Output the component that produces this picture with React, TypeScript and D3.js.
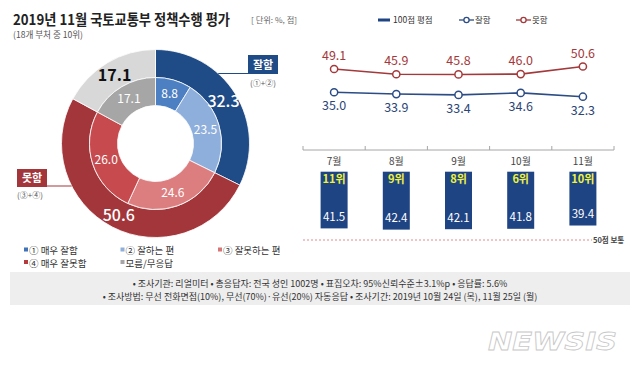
import React from 'react';
import * as d3 from 'd3';

const outerLabels = ['잘함', '못함', '모름/무응답'];
const outerValues = [32.3, 50.6, 17.1];
const outerColors = ['#1f4b86', '#a3363a', '#d8d8d8'];
const outerTextColors = ['#ffffff', '#ffffff', '#111111'];

const innerCategories = ['① 매우 잘함', '② 잘하는 편', '③ 잘못하는 편', '④ 매우 잘못함', '모름/무응답'];
const innerValues = [8.8, 23.5, 24.6, 26.0, 17.1];
const innerColors = ['#4d80c3', '#8eaedb', '#dc7e80', '#c74b4e', '#a6a6a6'];
const legendColors = ['#3f72b8', '#8eaedb', '#d77577', '#b43a3d', '#a6a6a6'];

const months = ['7월', '8월', '9월', '10월', '11월'];
const goodValues = [35.0, 33.9, 33.4, 34.6, 32.3];
const badValues = [49.1, 45.9, 45.8, 46.0, 50.6];
const scoreValues = [41.5, 42.4, 42.1, 41.8, 39.4];
const rankLabels = ['11위', '9위', '8위', '6위', '10위'];

const footerLines = [
  '• 조사기관: 리얼미터   • 총응답자: 전국 성인 1002명  • 표집오차: 95%신뢰수준±3.1%p   • 응답률: 5.6%',
  '• 조사방법: 무선 전화면접(10%), 무선(70%)·유선(20%) 자동응답 • 조사기간: 2019년 10월 24일 (목), 11월 25일 (월)',
];

const FONT = '"Noto Sans CJK KR", "Noto Sans", sans-serif';

export default function App() {
  const W = 639, H = 370;
  // donut
  const cx = 155.5, cy = 143.5;
  const rOuter = 94, rMid = 66, rInner = 38;
  const pie = d3.pie<number>().sort(null).value((d) => d).startAngle(0).endAngle(Math.PI * 2);
  const outerArcs = pie(outerValues);
  const innerArcs = pie(innerValues);
  const outerArc = d3.arc<d3.PieArcDatum<number>>().innerRadius(rMid).outerRadius(rOuter);
  const innerArc = d3.arc<d3.PieArcDatum<number>>().innerRadius(rInner).outerRadius(rMid);
  const outerLabelArc = d3.arc<d3.PieArcDatum<number>>().innerRadius(80).outerRadius(80);
  const innerLabelArc = d3.arc<d3.PieArcDatum<number>>().innerRadius(52).outerRadius(52);

  const edgeX = (y: number, side: number) => cx + side * Math.sqrt(rOuter * rOuter - (y - cy) * (y - cy));

  // right chart
  const x = d3.scaleBand<string>().domain(months).range([303, 614]).padding(0);
  const yLine = d3.scaleLinear().domain([0, 60]).range([150, 51]);
  const yBar = d3.scaleLinear().domain([0, 50]).range([171.7, 240]);
  const barW = 27;
  const line = d3.line<number>().x((_, i) => (x(months[i]) as number) + x.bandwidth() / 2).y((d) => yLine(d));
  const tickXs = [...months.map((m) => x(m) as number), 614];

  return (
    <svg width={W} height={H} style={{ position: 'absolute', left: 0, top: 0, background: '#fff' }} fontFamily={FONT}>
      <rect x={0} y={0} width={W} height={H} fill="#ffffff" />
      {/* title */}
      <text x={13} y={25} fontSize={14.5} fontWeight={700} fill="#222" textLength={217} lengthAdjust="spacingAndGlyphs">
        2019년 11월  국토교통부 정책수행 평가
      </text>
      <text x={13} y={37.5} fontSize={9} fill="#555" textLength={70} lengthAdjust="spacingAndGlyphs">(18개 부처 중 10위)</text>
      <text x={251} y={23} fontSize={7.5} fill="#666" textLength={46} lengthAdjust="spacingAndGlyphs">[ 단위: %, 점]</text>

      {/* donut */}
      <g transform={`translate(${cx},${cy})`}>
        {outerArcs.map((a, i) => (
          <path key={'o' + i} d={outerArc(a) as string} fill={outerColors[i]} stroke="#fff" strokeWidth={0.8} />
        ))}
        {innerArcs.map((a, i) => (
          <path key={'i' + i} d={innerArc(a) as string} fill={innerColors[i]} stroke="#fff" strokeWidth={0.8} />
        ))}
        {outerArcs.map((a, i) => {
          const [lx, ly] = outerLabelArc.centroid(a);
          return (
            <text key={'ol' + i} x={lx} y={ly + 6} textAnchor="middle" fontSize={16} fontWeight={i === 2 ? 700 : 500} fill={outerTextColors[i]}>
              {outerValues[i].toFixed(1)}
            </text>
          );
        })}
        {innerArcs.map((a, i) => {
          const [lx, ly] = innerLabelArc.centroid(a);
          return (
            <text key={'il' + i} x={lx} y={ly + 4.5} textAnchor="middle" fontSize={12} fill="#fff">
              {innerValues[i].toFixed(1)}
            </text>
          );
        })}
      </g>

      {/* callouts */}
      <line x1={edgeX(73.5, 1)} y1={73.5} x2={249} y2={73.5} stroke="#1f4b86" strokeWidth={1} />
      <rect x={248} y={55} width={30} height={19} fill="#1f4b86" />
      <text x={263} y={68.5} textAnchor="middle" fontSize={11} fontWeight={700} fill="#fff">{outerLabels[0]}</text>
      <text x={263} y={86} textAnchor="middle" fontSize={8} fill="#555">(①+②)</text>

      <line x1={46} y1={186} x2={edgeX(186, -1)} y2={186} stroke="#a3363a" strokeWidth={1} />
      <rect x={17} y={169} width={30} height={18} fill="#a3363a" />
      <text x={32} y={182} textAnchor="middle" fontSize={11} fontWeight={700} fill="#fff">{outerLabels[1]}</text>
      <text x={17} y={198} fontSize={8} fill="#555">(③+④)</text>

      {/* left legend */}
      {innerCategories.map((c, i) => {
        const col = i < 3 ? i : i - 3;
        const row = i < 3 ? 0 : 1;
        const lx = [24, 120.5, 218][col];
        const ly = 254 + row * 12.5;
        return (
          <g key={'lg' + i}>
            <rect x={lx} y={ly - 6.5} width={4} height={4} fill={legendColors[i]} />
            <text x={lx + 5} y={ly} fontSize={9.5} fill="#333">{c}</text>
          </g>
        );
      })}

      {/* right legend */}
      <rect x={378} y={18.5} width={12} height={3} fill="#1f4483" />
      <text x={393} y={23} fontSize={8.5} fill="#333">100점 평점</text>
      <line x1={459} y1={20} x2={474} y2={20} stroke="#2c4c85" strokeWidth={1.3} />
      <circle cx={466.5} cy={20} r={2.6} fill="#fff" stroke="#2c4c85" strokeWidth={1.3} />
      <text x={475} y={23} fontSize={8.5} fill="#333">잘함</text>
      <line x1={516} y1={20} x2={531} y2={20} stroke="#a3393b" strokeWidth={1.3} />
      <circle cx={523.5} cy={20} r={2.6} fill="#fff" stroke="#a3393b" strokeWidth={1.3} />
      <text x={532} y={23} fontSize={8.5} fill="#333">못함</text>

      {/* lines */}
      <path d={line(badValues) as string} fill="none" stroke="#a3393b" strokeWidth={1.6} />
      <path d={line(goodValues) as string} fill="none" stroke="#2c4c85" strokeWidth={1.6} />
      {months.map((m, i) => {
        const px = (x(m) as number) + x.bandwidth() / 2;
        return (
          <g key={'pt' + i}>
            <circle cx={px} cy={yLine(badValues[i])} r={3.6} fill="#fff" stroke="#a3393b" strokeWidth={1.5} />
            <circle cx={px} cy={yLine(goodValues[i])} r={3.6} fill="#fff" stroke="#2c4c85" strokeWidth={1.5} />
            <text x={px} y={yLine(badValues[i]) - 9} textAnchor="middle" fontSize={12.5} fill="#a3393b">{badValues[i].toFixed(1)}</text>
            <text x={px} y={yLine(goodValues[i]) + 18} textAnchor="middle" fontSize={12.5} fill="#2c4777">{goodValues[i].toFixed(1)}</text>
          </g>
        );
      })}

      {/* axis */}
      <line x1={303} y1={150} x2={614} y2={150} stroke="#a6a6a6" strokeWidth={1} />
      {tickXs.map((t, i) => (
        <line key={'tk' + i} x1={t} y1={146} x2={t} y2={150} stroke="#a6a6a6" strokeWidth={1} />
      ))}
      {months.map((m, i) => (
        <text key={'mo' + i} x={(x(m) as number) + x.bandwidth() / 2} y={165} textAnchor="middle" fontSize={10} fill="#444">{m}</text>
      ))}

      {/* bars */}
      {months.map((m, i) => {
        const bx = (x(m) as number) + x.bandwidth() / 2 - barW / 2;
        const top = yBar(0);
        const bottom = yBar(scoreValues[i]);
        return (
          <g key={'bar' + i}>
            <rect x={bx} y={top} width={barW} height={bottom - top} fill="#1f4483" />
            <text x={bx + barW / 2} y={top + 11} textAnchor="middle" fontSize={11} fontWeight={700} fill="#eef23c">{rankLabels[i]}</text>
            <text x={bx + barW / 2} y={bottom - 7.5} textAnchor="middle" fontSize={11.5} fill="#fff">{scoreValues[i].toFixed(1)}</text>
          </g>
        );
      })}
      <line x1={303} y1={yBar(50)} x2={592} y2={yBar(50)} stroke="#e07070" strokeWidth={0.8} strokeDasharray="2,2" />
      <text x={593} y={yBar(50) + 3} fontSize={7.5} fontWeight={700} fill="#444">50점 보통</text>

      {/* footer */}
      <rect x={10} y={272} width={620} height={33} fill="#eeeeee" />
      {footerLines.map((l, i) => (
        <text key={'ft' + i} x={320} y={287 + i * 12.5} textAnchor="middle" fontSize={9} fill="#333">{l}</text>
      ))}

      {/* watermark */}
      <text x={488} y={350} fontSize={25} fontWeight={900} fontStyle="italic" fill="#ffffff" stroke="#c8c8c8" strokeWidth={0.8} textLength={129} lengthAdjust="spacingAndGlyphs" fontFamily='"DejaVu Sans", sans-serif'>NEWSIS</text>
    </svg>
  );
}
